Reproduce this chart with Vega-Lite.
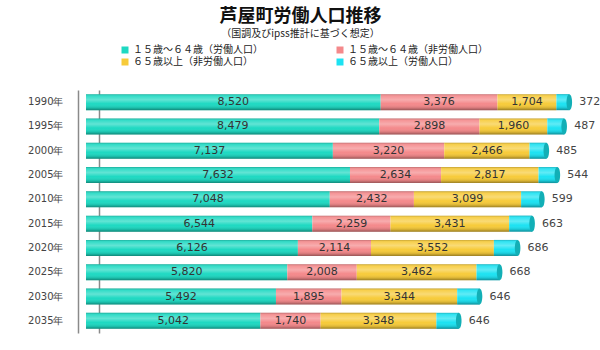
{
  "$schema": "https://vega.github.io/schema/vega-lite/v6.json",
  "width": 505,
  "height": 243,
  "autosize": {"type": "none"},
  "padding": {"left": 86, "top": 90, "right": 9, "bottom": 17},
  "background": "white",
  "title": {
    "text": "芦屋町労働人口推移",
    "subtitle": "（国調及びipss推計に基づく想定）",
    "anchor": "middle",
    "frame": "group",
    "dx": -38,
    "offset": 6,
    "font": "Noto Sans CJK JP",
    "fontSize": 18,
    "fontWeight": "bold",
    "color": "#111",
    "subtitleFont": "Noto Sans CJK JP",
    "subtitleFontSize": 10,
    "subtitleColor": "#222",
    "subtitlePadding": 3
  },
  "config": {"view": {"stroke": null}},
  "data": {
    "values": [
      {"year": "1990年", "series": "１５歳～６４歳（労働人口）", "value": 8520},
      {"year": "1990年", "series": "１５歳～６４歳（非労働人口）", "value": 3376},
      {"year": "1990年", "series": "６５歳以上（非労働人口）", "value": 1704},
      {"year": "1990年", "series": "６５歳以上（労働人口）", "value": 372},
      {"year": "1995年", "series": "１５歳～６４歳（労働人口）", "value": 8479},
      {"year": "1995年", "series": "１５歳～６４歳（非労働人口）", "value": 2898},
      {"year": "1995年", "series": "６５歳以上（非労働人口）", "value": 1960},
      {"year": "1995年", "series": "６５歳以上（労働人口）", "value": 487},
      {"year": "2000年", "series": "１５歳～６４歳（労働人口）", "value": 7137},
      {"year": "2000年", "series": "１５歳～６４歳（非労働人口）", "value": 3220},
      {"year": "2000年", "series": "６５歳以上（非労働人口）", "value": 2466},
      {"year": "2000年", "series": "６５歳以上（労働人口）", "value": 485},
      {"year": "2005年", "series": "１５歳～６４歳（労働人口）", "value": 7632},
      {"year": "2005年", "series": "１５歳～６４歳（非労働人口）", "value": 2634},
      {"year": "2005年", "series": "６５歳以上（非労働人口）", "value": 2817},
      {"year": "2005年", "series": "６５歳以上（労働人口）", "value": 544},
      {"year": "2010年", "series": "１５歳～６４歳（労働人口）", "value": 7048},
      {"year": "2010年", "series": "１５歳～６４歳（非労働人口）", "value": 2432},
      {"year": "2010年", "series": "６５歳以上（非労働人口）", "value": 3099},
      {"year": "2010年", "series": "６５歳以上（労働人口）", "value": 599},
      {"year": "2015年", "series": "１５歳～６４歳（労働人口）", "value": 6544},
      {"year": "2015年", "series": "１５歳～６４歳（非労働人口）", "value": 2259},
      {"year": "2015年", "series": "６５歳以上（非労働人口）", "value": 3431},
      {"year": "2015年", "series": "６５歳以上（労働人口）", "value": 663},
      {"year": "2020年", "series": "１５歳～６４歳（労働人口）", "value": 6126},
      {"year": "2020年", "series": "１５歳～６４歳（非労働人口）", "value": 2114},
      {"year": "2020年", "series": "６５歳以上（非労働人口）", "value": 3552},
      {"year": "2020年", "series": "６５歳以上（労働人口）", "value": 686},
      {"year": "2025年", "series": "１５歳～６４歳（労働人口）", "value": 5820},
      {"year": "2025年", "series": "１５歳～６４歳（非労働人口）", "value": 2008},
      {"year": "2025年", "series": "６５歳以上（非労働人口）", "value": 3462},
      {"year": "2025年", "series": "６５歳以上（労働人口）", "value": 668},
      {"year": "2030年", "series": "１５歳～６４歳（労働人口）", "value": 5492},
      {"year": "2030年", "series": "１５歳～６４歳（非労働人口）", "value": 1895},
      {"year": "2030年", "series": "６５歳以上（非労働人口）", "value": 3344},
      {"year": "2030年", "series": "６５歳以上（労働人口）", "value": 646},
      {"year": "2035年", "series": "１５歳～６４歳（労働人口）", "value": 5042},
      {"year": "2035年", "series": "１５歳～６４歳（非労働人口）", "value": 1740},
      {"year": "2035年", "series": "６５歳以上（非労働人口）", "value": 3348},
      {"year": "2035年", "series": "６５歳以上（労働人口）", "value": 646}
    ]
  },
  "transform": [
    {"calculate": "indexof(['１５歳～６４歳（労働人口）','１５歳～６４歳（非労働人口）','６５歳以上（非労働人口）','６５歳以上（労働人口）'], datum.series)", "as": "ord"},
    {"stack": "value", "groupby": ["year"], "sort": [{"field": "ord", "order": "ascending"}], "as": ["s", "e"]},
    {"calculate": "(datum.s + datum.e) / 2", "as": "mid"}
  ],
  "layer": [
    {
      "mark": {"type": "bar"},
      "encoding": {
        "y": {
          "field": "year",
          "type": "nominal",
          "sort": "ascending",
          "scale": {"paddingInner": 0.34, "paddingOuter": 0.17},
          "axis": {
            "title": null,
            "ticks": false,
            "domain": true,
            "domainColor": "#8a8a8a",
            "domainWidth": 1.5,
            "offset": 8,
            "labelPadding": 15,
            "labelFont": "DejaVu Sans",
            "labelFontSize": 10,
            "labelColor": "#444"
          }
        },
        "x": {
          "field": "s",
          "type": "quantitative",
          "scale": {"domain": [0, 14600], "nice": false, "zero": true},
          "axis": {
            "values": [375],
            "grid": true,
            "gridColor": "#8a8a8a",
            "gridWidth": 1.5,
            "labels": false,
            "ticks": false,
            "domain": false,
            "title": null
          }
        },
        "x2": {"field": "e"},
        "color": {
          "field": "series",
          "type": "nominal",
          "scale": {
            "domain": ["１５歳～６４歳（労働人口）", "１５歳～６４歳（非労働人口）", "６５歳以上（非労働人口）", "６５歳以上（労働人口）"],
            "range": ["#1ED9C2", "#F4898B", "#F7CB3A", "#1CE2F2"]
          },
          "legend": {
            "title": null,
            "orient": "none",
            "legendX": 34,
            "legendY": -45,
            "columns": 2,
            "direction": "horizontal",
            "symbolType": "square",
            "symbolSize": 49,
            "symbolStrokeWidth": 0,
            "labelFont": "Noto Sans CJK JP",
            "labelFontSize": 10,
            "labelColor": "#222",
            "labelOffset": 3,
            "columnPadding": 72,
            "rowPadding": 2,
            "labelLimit": 300
          }
        }
      }
    },
    {
      "mark": {
        "type": "bar",
        "color": {
          "gradient": "linear",
          "x1": 0, "y1": 0, "x2": 0, "y2": 1,
          "stops": [
            {"offset": 0, "color": "rgba(0,0,0,0.22)"},
            {"offset": 0.12, "color": "rgba(255,255,255,0.10)"},
            {"offset": 0.35, "color": "rgba(255,255,255,0.30)"},
            {"offset": 0.6, "color": "rgba(255,255,255,0.0)"},
            {"offset": 0.85, "color": "rgba(0,0,0,0.12)"},
            {"offset": 1, "color": "rgba(0,0,0,0.38)"}
          ]
        }
      },
      "encoding": {
        "y": {"field": "year", "type": "nominal", "sort": "ascending"},
        "x": {"field": "s", "type": "quantitative"},
        "x2": {"field": "e"}
      }
    },
    {
      "transform": [{"filter": "datum.ord == 3"}],
      "mark": {
        "type": "point",
        "shape": "M0,-1A0.35,1 0 1,1 0,1A0.35,1 0 1,1 0,-1Z",
        "size": 256,
        "filled": true,
        "color": "#12AFB6",
        "opacity": 1
      },
      "encoding": {
        "y": {"field": "year", "type": "nominal", "sort": "ascending"},
        "x": {"field": "e", "type": "quantitative"}
      }
    },
    {
      "transform": [{"filter": "datum.ord < 3"}],
      "mark": {"type": "text", "font": "DejaVu Sans", "fontSize": 11, "color": "#333", "align": "center", "baseline": "middle"},
      "encoding": {
        "y": {"field": "year", "type": "nominal", "sort": "ascending"},
        "x": {"field": "mid", "type": "quantitative"},
        "text": {"field": "value", "type": "quantitative", "format": ","}
      }
    },
    {
      "transform": [{"filter": "datum.ord == 3"}],
      "mark": {"type": "text", "font": "DejaVu Sans", "fontSize": 11, "color": "#444", "align": "left", "baseline": "middle", "dx": 10},
      "encoding": {
        "y": {"field": "year", "type": "nominal", "sort": "ascending"},
        "x": {"field": "e", "type": "quantitative"},
        "text": {"field": "value", "type": "quantitative", "format": ","}
      }
    }
  ]
}
